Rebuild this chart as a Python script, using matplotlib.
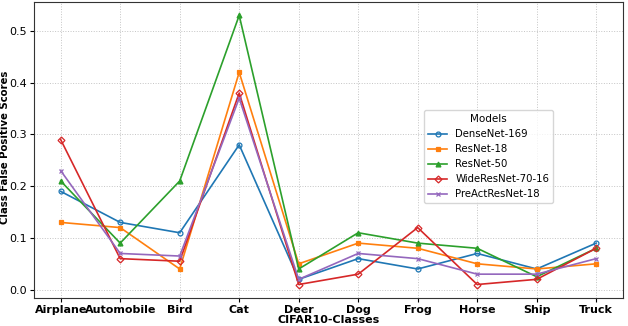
import matplotlib
matplotlib.use("Agg")
import matplotlib.pyplot as plt

classes = ["Airplane", "Automobile", "Bird", "Cat", "Deer", "Dog", "Frog", "Horse", "Ship", "Truck"]
densenet169 = [0.19, 0.13, 0.11, 0.28, 0.02, 0.06, 0.04, 0.07, 0.04, 0.09]
resnet18 = [0.13, 0.12, 0.04, 0.42, 0.05, 0.09, 0.08, 0.05, 0.04, 0.05]
resnet50 = [0.21, 0.09, 0.21, 0.53, 0.04, 0.11, 0.09, 0.08, 0.025, 0.08]
wrn7016 = [0.29, 0.06, 0.055, 0.38, 0.01, 0.03, 0.12, 0.01, 0.02, 0.08]
preact18 = [0.23, 0.07, 0.065, 0.37, 0.02, 0.07, 0.06, 0.03, 0.03, 0.06]

series = [
    ("DenseNet-169", densenet169, "o", "#1f77b4"),
    ("ResNet-18", resnet18, "s", "#ff7f0e"),
    ("ResNet-50", resnet50, "^", "#2ca02c"),
    ("WideResNet-70-16", wrn7016, "D", "#d62728"),
    ("PreActResNet-18", preact18, "x", "#9467bd"),
]

fig = plt.figure(figsize=(6.28, 3.26), dpi=100)
ax = fig.add_axes([0.054, 0.086, 0.938, 0.908])
x = list(range(len(classes)))
for name, vals, mk, col in series:
    ax.plot(x, vals, marker=mk, color=col, label=name, linewidth=1.2,
            markersize=3.5, markerfacecolor="none" if mk in ("o", "D") else col,
            markeredgewidth=0.9)

ax.set_xticks(x)
ax.set_xticklabels(classes, fontweight="bold", fontsize=8)
ax.set_yticks([0.0, 0.1, 0.2, 0.3, 0.4, 0.5])
for lab in ax.get_yticklabels():
    lab.set_fontsize(8)
ax.set_xlabel("CIFAR10-Classes", fontweight="bold", fontsize=8, labelpad=0)
ax.set_ylabel("Class False Positive Scores", fontweight="bold", fontsize=7.3)
ax.yaxis.set_label_coords(-0.041, 0.51)
ax.grid(True, linestyle=":", color="#c4c4c4", linewidth=0.7)
ax.tick_params(axis="both", length=3, pad=2)
for sp in ax.spines.values():
    sp.set_color("#333333")
leg = ax.legend(title="Models", loc="upper left", bbox_to_anchor=(0.662, 0.635),
                borderaxespad=0, fontsize=7.3, title_fontsize=7.5, handlelength=1.9,
                labelspacing=0.5, borderpad=0.4)
fig.savefig("out.png", dpi=100)
